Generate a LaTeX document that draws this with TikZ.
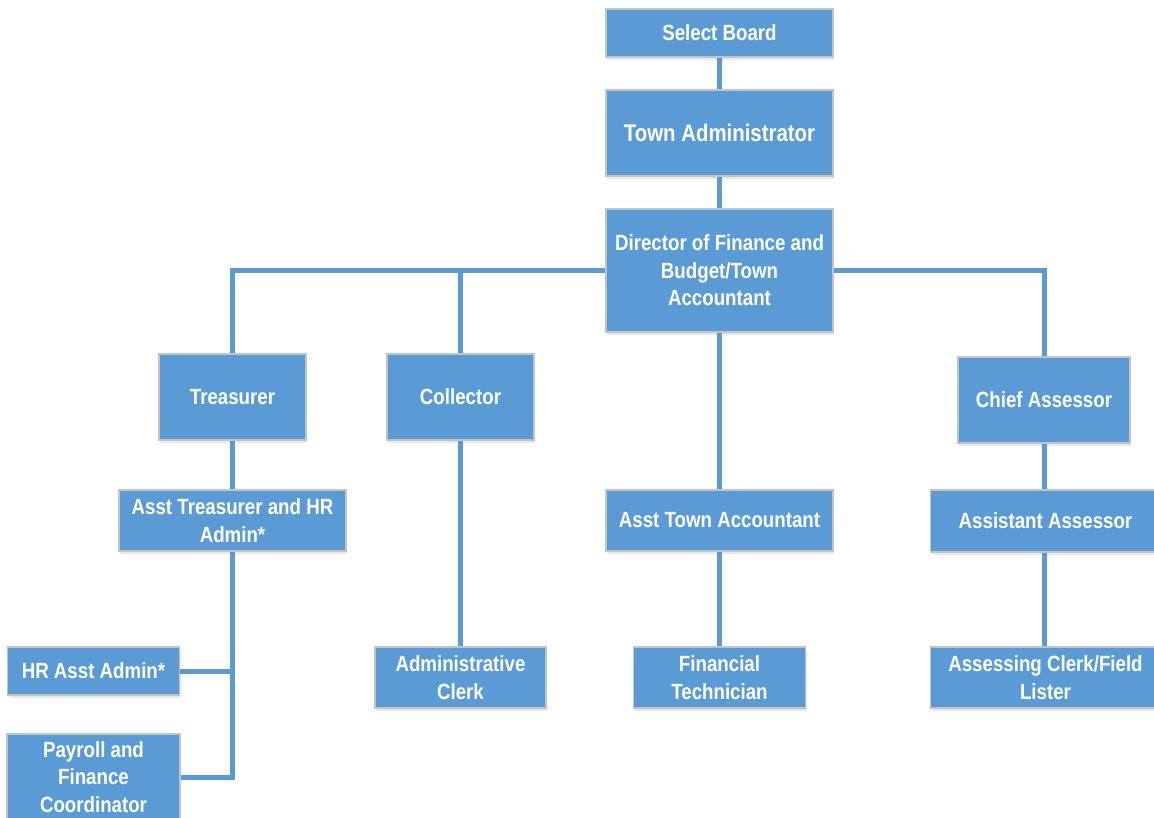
\documentclass[tikz,border=0pt]{standalone}
\usepackage{fontspec}
\setmainfont{Liberation Sans}[FakeStretch=0.85]
\usetikzlibrary{backgrounds,shadows}
\definecolor{boxblue}{HTML}{5B9BD5}
\definecolor{boxedge}{HTML}{C3C3C3}
\definecolor{linkblue}{HTML}{5B9BD5}
\begin{document}
\begin{tikzpicture}[x=1pt,y=-1pt,
  orgbox/.style={draw=boxedge, line width=1.2pt, fill=boxblue, text=white,
    font=\fontsize{22}{27.5}\selectfont\bfseries, align=center, inner sep=0pt,
    drop shadow={opacity=0.18, shadow xshift=1pt, shadow yshift=-3pt}},
  link/.style={draw=linkblue, line width=5pt}]
\useasboundingbox (0,0) rectangle (1154,818);
\node[orgbox, minimum width=227, minimum height=48] (sb) at (719.5,33) {Select Board};
\node[orgbox, minimum width=227, minimum height=86, font=\fontsize{24}{28}\selectfont\bfseries] (ta) at (719.5,133) {Town Administrator};
\node[orgbox, minimum width=227, minimum height=123] (dir) at (719.5,270.5) {Director of Finance and\\Budget/Town\\Accountant};
\node[orgbox, minimum width=147, minimum height=86] (tr) at (232.5,397) {Treasurer};
\node[orgbox, minimum width=147, minimum height=86] (col) at (460.5,397) {Collector};
\node[orgbox, minimum width=172, minimum height=86] (ca) at (1044,400) {Chief Assessor};
\node[orgbox, minimum width=227, minimum height=61] (atr) at (232.5,520.5) {Asst Treasurer and HR\\Admin*};
\node[orgbox, minimum width=227, minimum height=61] (ata) at (719.5,520.5) {Asst Town Accountant};
\node[orgbox, minimum width=230, minimum height=62] (aa) at (1045.5,521) {Assistant Assessor};
\node[orgbox, minimum width=171, minimum height=61] (acl) at (460.5,677.5) {Administrative\\Clerk};
\node[orgbox, minimum width=172, minimum height=61] (ft) at (719.5,677.5) {Financial\\Technician};
\node[orgbox, minimum width=230, minimum height=61] (acf) at (1045.5,677.5) {Assessing Clerk/Field\\Lister};
\node[orgbox, minimum width=172, minimum height=48] (hr) at (93.5,671) {HR Asst Admin*};
\node[orgbox, minimum width=173, minimum height=86] (pay) at (93.5,777) {Payroll and\\Finance\\Coordinator};
\begin{pgfonlayer}{background}
\draw[link] (sb) -- (ta);
\draw[link] (ta) -- (dir);
\draw[link] (dir) -- (ata);
\draw[link] (ata) -- (ft);
\draw[link] (dir.west) -| (tr.north);
\draw[link] (col.north) -- (col.north |- dir.west);
\draw[link] (dir.east) -| (ca.north);
\draw[link] (tr) -- (atr);
\draw[link] (col) -- (acl);
\draw[link] (ca) -- (ca |- aa.north);
\draw[link] (ca |- aa.south) -- (ca |- acf.north);
\draw[link] (atr.south) |- (pay.east);
\draw[link] (hr.east) -- (atr.south |- hr.east);
\end{pgfonlayer}
\end{tikzpicture}
\end{document}
